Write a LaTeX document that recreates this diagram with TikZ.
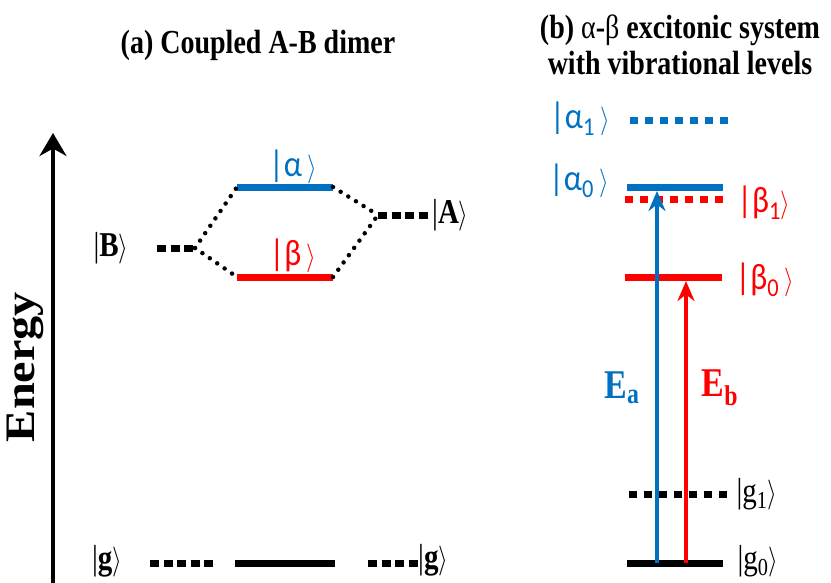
\documentclass[tikz,border=0pt]{standalone}
\usepackage{fontspec}
\setmainfont{Liberation Serif}
\newfontfamily\calfont{Carlito}
\usetikzlibrary{arrows.meta,positioning}
\definecolor{lvlblue}{RGB}{0,112,192}
\definecolor{lvlred}{RGB}{255,0,0}
\newcommand{\kra}{{\fontsize{34}{34}\selectfont$\rangle$}}

\begin{document}
\begin{tikzpicture}[
  x=1pt, y=-1pt,
  node distance=4pt,
  lvl/.style={line width=7pt},
  vib/.style={line width=7pt, dash pattern=on 8pt off 7pt},
  gdash/.style={line width=7pt, dash pattern=on 9pt off 4.5pt},
  mix/.style={line width=4.5pt, line cap=round, dash pattern=on 0pt off 9pt},
  ket/.style={inner sep=0pt, yscale=1.2, font=\fontsize{29}{30}\selectfont},
  gket/.style={inner sep=0pt, yscale=1.15, font=\calfont\fontsize{32}{34}\selectfont},
  title/.style={align=center, yscale=1.2, font=\bfseries\fontsize{28}{30}\selectfont},
  excite/.style={-{Stealth[length=20pt,width=17pt]}, line width=3.5pt},
  elabel/.style={inner sep=0pt, yscale=1.2, font=\bfseries\fontsize{34}{36}\selectfont}
]
\useasboundingbox (0,0) rectangle (831,582);

% titles
\node[title, anchor=base] (ttla) at (258,53) {(a) Coupled A-B dimer};
\node[title] (ttlb) at (680,45) {(b) {\mdseries α}-{\mdseries β} excitonic system\\with vibrational levels};

% energy axis
\coordinate (axbot) at (53,590);
\coordinate (axtop) at (53,133);
\draw[line width=4pt, -{Stealth[length=23pt,width=27pt]}] (axbot) -- (axtop);
\node[rotate=90, xscale=1.15, font=\bfseries\fontsize{42}{42}\selectfont, inner sep=0pt] (energy) at (25,367) {Energy};

% (a) level ends
\coordinate (bl) at (157,248);  \coordinate (br) at (195,248);
\coordinate (al) at (237,187);  \coordinate (ar) at (333,187);
\coordinate (betl) at (237,277); \coordinate (betr) at (333,277);
\coordinate (Al) at (378,215);  \coordinate (Ar) at (430,215);
\coordinate (gl1) at (150,563); \coordinate (gl2) at (217,563);
\coordinate (gm1) at (235,563); \coordinate (gm2) at (335,563);
\coordinate (gr1) at (368,563); \coordinate (gr2) at (418,563);

\draw[gdash] (bl) -- (br);
\draw[gdash] (Al) -- (Ar);
\draw[lvl, lvlblue] (al) -- (ar);
\draw[lvl, lvlred] (betl) -- (betr);
\draw[mix] (br) -- (al);
\draw[mix] (br) -- (betl);
\draw[mix] (ar) -- (Al);
\draw[mix] (betr) -- (Al);
\draw[gdash] (gl1) -- (gl2);
\draw[lvl] (gm1) -- (gm2);
\draw[gdash] (gr1) -- (gr2);

\node[ket] (ketB) at (111,248) {|\textbf{B}$\rangle$};
\node[ket, right=2pt of Ar] (ketA) {|\textbf{A}$\rangle$};
\node[gket, text=lvlblue] (keta) at (293,167) {|α\,\kra};
\node[gket, text=lvlred] (ketb) at (293,256) {|β\,\kra};
\node[ket] (ketgl) at (107,561) {|\textbf{g}$\rangle$};
\node[ket, right=0pt of gr2, yshift=2pt] (ketgr) {|\textbf{g}$\rangle$};

% (b) level ends
\coordinate (a1l) at (630,120); \coordinate (a1r) at (728,120);
\coordinate (a0l) at (627,187); \coordinate (a0r) at (723,187);
\coordinate (b1l) at (625,199); \coordinate (b1r) at (724,199);
\coordinate (b0l) at (625,277); \coordinate (b0r) at (722,277);
\coordinate (g1l) at (629,494); \coordinate (g1r) at (728,494);
\coordinate (g0l) at (627,563); \coordinate (g0r) at (723,563);

\draw[vib, lvlblue] (a1l) -- (a1r);
\draw[lvl, lvlblue] (a0l) -- (a0r);
\draw[vib, lvlred] (b1l) -- (b1r);
\draw[lvl, lvlred] (b0l) -- (b0r);
\draw[vib] (g1l) -- (g1r);
\draw[lvl] (g0l) -- (g0r);

\node[gket, text=lvlblue] (keta1) at (580,119) {|α\textsubscript{1}\,\kra};
\node[gket, text=lvlblue] (keta0) at (579,181) {|α\textsubscript{0}\,\kra};
\node[gket, text=lvlred] (ketb1) at (764,203) {|β\textsubscript{1}\kra};
\node[gket, text=lvlred] (ketb0) at (765,280) {|β\textsubscript{0}\,\kra};
\node[ket] (ketg1) at (757,494) {|g\textsubscript{1}$\rangle$};
\node[ket] (ketg0) at (758,561) {|g\textsubscript{0}$\rangle$};

% transitions
\coordinate (ea0) at (657,563); \coordinate (ea1) at (657,191);
\coordinate (eb0) at (686,563); \coordinate (eb1) at (686,281);
\draw[excite, lvlblue] (ea0) -- (ea1);
\draw[excite, lvlred] (eb0) -- (eb1);
\node[elabel, text=lvlblue] (Ea) at (622,388) {E\textsubscript{a}};
\node[elabel, text=lvlred] (Eb) at (720,388) {E\textsubscript{b}};

\end{tikzpicture}
\end{document}
